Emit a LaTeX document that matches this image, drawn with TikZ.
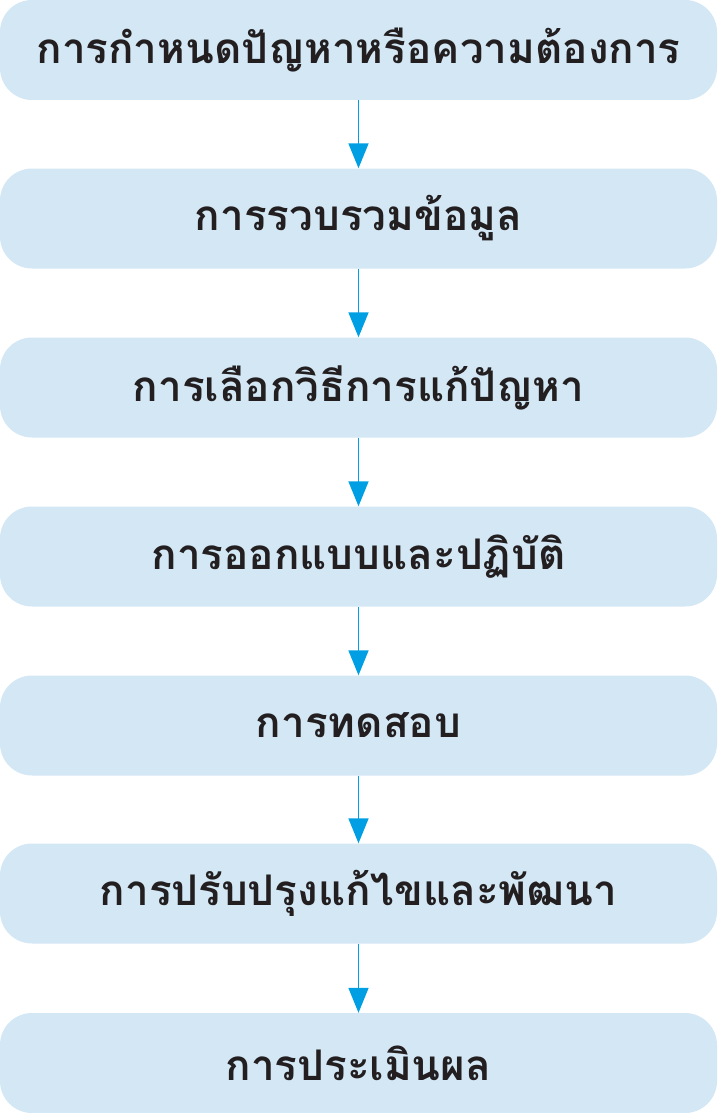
\documentclass[tikz,border=0pt]{standalone}
\usepackage{fontspec}
\newfontfamily\thaifont[Script=Thai]{Loma}
\definecolor{boxfill}{HTML}{D3E7F5}
\definecolor{arrowblue}{HTML}{009FE3}
\definecolor{txt}{HTML}{231F20}
\usetikzlibrary{arrows.meta}
\begin{document}
\begin{tikzpicture}[x=1pt,y=-1pt,
  stepbox/.style={fill=boxfill, draw=none, rounded corners=32pt, minimum width=717pt, minimum height=100pt, inner sep=0pt, font=\thaifont\bfseries\fontsize{42.2}{50}\selectfont, text=txt},
  flow/.style={draw=arrowblue, line width=1.6pt, -{Triangle[length=25pt,width=20pt]}, shorten >=0pt}]
\useasboundingbox (0,0) rectangle (718,1113);
\node[stepbox] (s1) at (358.5,50) {การกำหนดปัญหาหรือความต้องการ};
\node[stepbox] (s2) at (358.5,218.5) {การรวบรวมข้อมูล};
\node[stepbox] (s3) at (358.5,387.5) {การเลือกวิธีการแก้ปัญหา};
\node[stepbox] (s4) at (358.5,556.5) {การออกแบบและปฏิบัติ};
\node[stepbox] (s5) at (358.5,725.5) {การทดสอบ};
\node[stepbox] (s6) at (358.5,893.5) {การปรับปรุงแก้ไขและพัฒนา};
\node[stepbox] (s7) at (358.5,1063) {การประเมินผล};
\foreach \a/\b in {s1/s2,s2/s3,s3/s4,s4/s5,s5/s6,s6/s7}
  \draw[flow] (\a.south) -- (\b.north);
\end{tikzpicture}
\end{document}
